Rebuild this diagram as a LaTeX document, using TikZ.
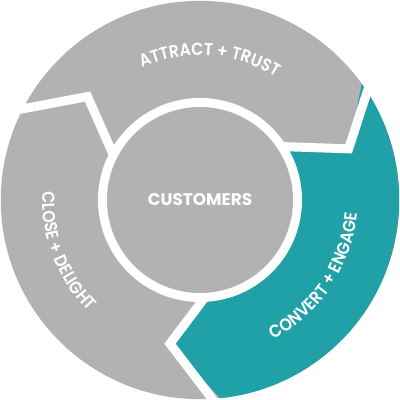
\documentclass[tikz,border=0pt]{standalone}
\usepackage{fontspec}
\usetikzlibrary{decorations.text}
\newfontfamily\ringfont{Poppins SemiBold}[FakeStretch=0.9]
\newfontfamily\hubfont{Poppins}
\definecolor{ringgray}{HTML}{B2B2B2}
\definecolor{ringteal}{HTML}{20A1A8}

\begin{document}
\begin{tikzpicture}[line width=1pt,
    gapline/.style={white, line width=0.225cm, line join=miter, miter limit=10},
    ringtext/.style={decorate, decoration={text along path, text align=center, text color=white,
        text={|\ringfont\fontsize{12.5}{12.5}\selectfont|#1}}}]
  \useasboundingbox (-5,-5) rectangle (5,5);
  \fill[ringgray] (0,0) circle (4.98);
  % teal arrow segment
  \fill[ringteal] (35.7:4.98) arc[start angle=35.7, end angle=-84.2, radius=4.98]
    -- (258.2:3.67) -- (-84.2:2.4) arc[start angle=-84.2, end angle=35.7, radius=2.4]
    -- (19:3.93) -- cycle;
  % white gaps between the segments
  \foreach \a/\b/\m in {35.7/19/3.93, 155.4/137.4/3.82, 275.8/258.2/3.67} {
    \draw[gapline] (\a:5.3) -- (\b:\m) -- (\a:2.3);
  }
  \fill[white] (0,0) circle (2.55);
  \fill[ringgray] (0,0) circle (2.325);
  \node[text=white, font=\hubfont\bfseries\fontsize{12}{12}\selectfont] (hub) at (0,0) {CUSTOMERS};
  \path[ringtext=ATTRACT + TRUST] (126:3.61) arc[start angle=126, end angle=46, radius=3.61];
  \path[ringtext=CLOSE + DELIGHT] (161:3.94) arc[start angle=161, end angle=241, radius=3.94];
  \path[ringtext=CONVERT + ENGAGE] (-73.5:3.94) arc[start angle=-73.5, end angle=6.5, radius=3.94];
\end{tikzpicture}
\end{document}
